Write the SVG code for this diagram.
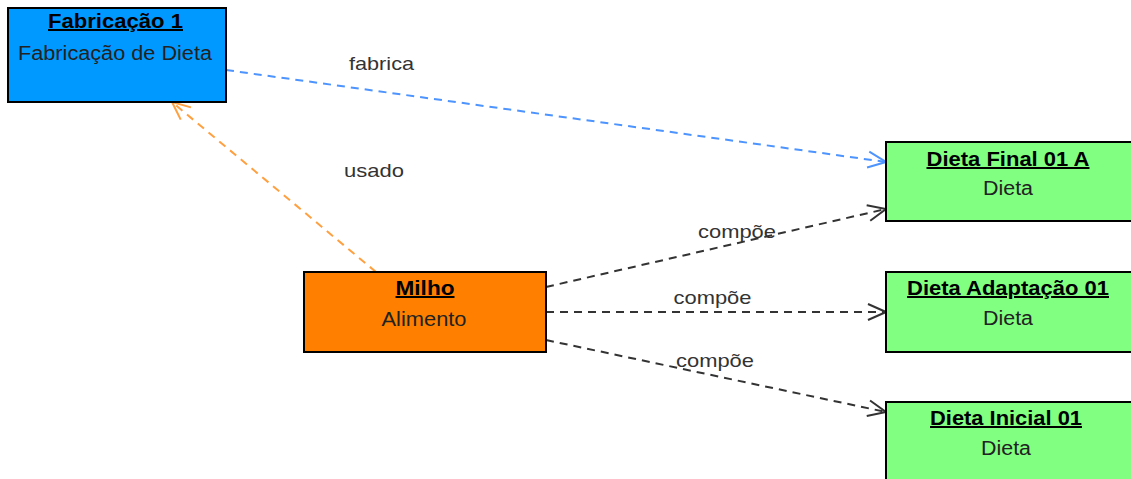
<svg xmlns="http://www.w3.org/2000/svg" width="1131" height="479" viewBox="0 0 1131 479">
<style>
.box{stroke:#000;stroke-width:2}
.t{font-family:"Liberation Sans",Arial,sans-serif;font-size:20px;fill:#000;font-weight:bold;text-decoration:underline;text-anchor:middle}
.s{font-family:"Liberation Sans",Arial,sans-serif;font-size:20px;fill:#222;text-anchor:middle}
.l{font-family:"Liberation Sans",Arial,sans-serif;font-size:19px;fill:#333;text-anchor:middle}
.c{fill:none;stroke-width:2;stroke-dasharray:8,6}
</style>
<defs>
<marker id="ab" viewBox="0 0 20 20" refX="19" refY="10" markerWidth="20" markerHeight="20" markerUnits="userSpaceOnUse" orient="auto"><path d="M1,2 L19,10 L1,18" fill="none" stroke="#4D94FF" stroke-width="2"/></marker>
<marker id="ao" viewBox="0 0 20 20" refX="19" refY="10" markerWidth="20" markerHeight="20" markerUnits="userSpaceOnUse" orient="auto"><path d="M1,2 L19,10 L1,18" fill="none" stroke="#FFA040" stroke-width="2"/></marker>
<marker id="ak" viewBox="0 0 20 20" refX="19" refY="10" markerWidth="20" markerHeight="20" markerUnits="userSpaceOnUse" orient="auto"><path d="M1,2 L19,10 L1,18" fill="none" stroke="#333" stroke-width="2"/></marker>
</defs>
<g id="connectors">
<path class="c" d="M226,70 L886,162" stroke="#4D94FF" marker-end="url(#ab)"/>
<path class="c" d="M376,272 L172,102" stroke="#FFA040" marker-end="url(#ao)"/>
<path class="c" d="M546,287 L886,209" stroke="#333" marker-end="url(#ak)"/>
<path class="c" d="M546,312 L886,312" stroke="#333" marker-end="url(#ak)"/>
<path class="c" d="M546,340 L886,412" stroke="#333" marker-end="url(#ak)"/>
<text class="l" x="381.5" y="70" textLength="65" lengthAdjust="spacingAndGlyphs">fabrica</text>
<text class="l" x="374" y="177" textLength="60" lengthAdjust="spacingAndGlyphs">usado</text>
<text class="l" x="737" y="238" textLength="78" lengthAdjust="spacingAndGlyphs">compõe</text>
<text class="l" x="712.5" y="304" textLength="78" lengthAdjust="spacingAndGlyphs">compõe</text>
<text class="l" x="715" y="367" textLength="78" lengthAdjust="spacingAndGlyphs">compõe</text>
</g>
<g id="fabricacao">
<rect class="box" x="8" y="8" width="218" height="94" fill="#0099FF"/>
<text class="t" x="115.5" y="28" textLength="135" lengthAdjust="spacingAndGlyphs">Fabricação 1</text>
<text class="s" x="115" y="60" textLength="194" lengthAdjust="spacingAndGlyphs">Fabricação de Dieta</text>
</g>
<g id="milho">
<rect class="box" x="304" y="272" width="242" height="80" fill="#FF8000"/>
<text class="t" x="425" y="295" textLength="59" lengthAdjust="spacingAndGlyphs">Milho</text>
<text class="s" x="424" y="326" textLength="85" lengthAdjust="spacingAndGlyphs">Alimento</text>
</g>
<g id="dieta-final">
<rect class="box" x="886" y="142" width="250" height="79" fill="#80FF80"/>
<text class="t" x="1008" y="166" textLength="163" lengthAdjust="spacingAndGlyphs">Dieta Final 01 A</text>
<text class="s" x="1008" y="195" textLength="50" lengthAdjust="spacingAndGlyphs">Dieta</text>
</g>
<g id="dieta-adaptacao">
<rect class="box" x="886" y="272" width="250" height="80" fill="#80FF80"/>
<text class="t" x="1008" y="295" textLength="202" lengthAdjust="spacingAndGlyphs">Dieta Adaptação 01</text>
<text class="s" x="1008" y="325" textLength="50" lengthAdjust="spacingAndGlyphs">Dieta</text>
</g>
<g id="dieta-inicial">
<rect class="box" x="886" y="402" width="250" height="90" fill="#80FF80"/>
<text class="t" x="1006" y="425" textLength="152" lengthAdjust="spacingAndGlyphs">Dieta Inicial 01</text>
<text class="s" x="1006" y="455" textLength="50" lengthAdjust="spacingAndGlyphs">Dieta</text>
</g>
</svg>
